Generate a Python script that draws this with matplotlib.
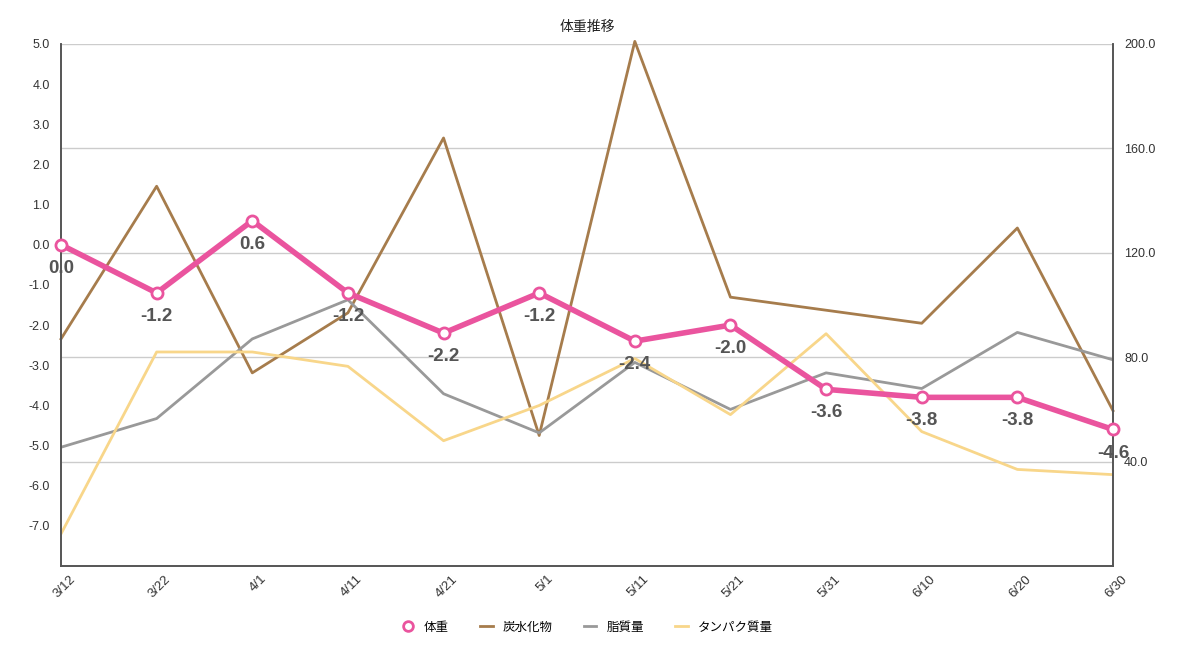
import matplotlib.pyplot as plt
from matplotlib.lines import Line2D
from matplotlib.transforms import ScaledTranslation

plt.rcParams['font.family'] = ['Liberation Sans', 'Noto Sans CJK JP']

dates = ['3/12', '3/22', '4/1', '4/11', '4/21', '5/1', '5/11', '5/21', '5/31', '6/10', '6/20', '6/30']
weight = [0.0, -1.2, 0.6, -1.2, -2.2, -1.2, -2.4, -2.0, -3.6, -3.8, -3.8, -4.6]
carbs = [87, 145.5, 74, 97, 164, 50, 201, 103, 98, 93, 129.5, 59.5]
fat = [45.5, 56.5, 87, 102, 66, 51, 78, 60, 74, 68, 89.5, 79]
protein = [12.3, 82, 82, 76.5, 48, 61.5, 79.5, 58, 89, 51.5, 37, 35]

pink = '#ea549e'
brown = '#a67c4c'
gray = '#999999'
yellow = '#f8d68a'

fig = plt.figure(figsize=(12, 6.47), dpi=100)
# nutrient axis (right scale) underneath, weight axis on top
ax = fig.add_axes([61/1200, 81/647, 1052/1200, 522/647])
ax2 = ax.twinx()

x = list(range(len(dates)))
ax.plot(x, carbs, color=brown, lw=2, clip_on=False)
ax.plot(x, fat, color=gray, lw=2)
ax.plot(x, protein, color=yellow, lw=2)
ax.set_ylim(0, 200)
ax.set_yticks([40, 80, 120, 160, 200])
ax.set_yticklabels(['%.1f' % v for v in [40, 80, 120, 160, 200]])
ax.yaxis.tick_right()
ax.grid(axis='y', color='#cccccc', lw=1)
ax.set_axisbelow(True)

ax2.plot(x, weight, color=pink, lw=4, marker='o', ms=8, mfc='white',
         mec=pink, mew=2, clip_on=False, zorder=5)
for xi, w in zip(x, weight):
    ax2.annotate('%.1f' % w, (xi, w), xytext=(0, -17), textcoords='offset points',
                 ha='center', va='center', fontsize=13.5, color='#555555',
                 fontweight='bold', zorder=6)
ax2.set_ylim(-8, 5)
ticks = [5, 4, 3, 2, 1, 0, -1, -2, -3, -4, -5, -6, -7]
ax2.set_yticks(ticks)
ax2.set_yticklabels(['%.1f' % t for t in ticks])
ax2.yaxis.tick_left()

for a in (ax, ax2):
    a.set_xlim(0, 11)
    a.spines['top'].set_visible(False)
    for s in ('left', 'right', 'bottom'):
        a.spines[s].set_color('#555555')
        a.spines[s].set_linewidth(1.2)
    a.tick_params(axis='y', length=0, labelsize=9, colors='#333333', pad=8)

ax.set_xticks(x)
ax.set_xticklabels(dates, rotation=45, ha='right', rotation_mode='anchor')
ax.tick_params(axis='x', length=0, labelsize=9.5, colors='#333333', pad=5)
shift = ScaledTranslation(8/100, 0, fig.dpi_scale_trans)
for lbl in ax.get_xticklabels():
    lbl.set_transform(lbl.get_transform() + shift)

fig.text(587/1200, 1 - 27/647, '体重推移', ha='center', va='center', fontsize=10,
         color='#222222', family=['Noto Sans CJK JP'])

handles = [
    Line2D([], [], color=pink, lw=0, marker='o', ms=7, mfc='white', mec=pink, mew=2),
    Line2D([], [], color=brown, lw=2),
    Line2D([], [], color=gray, lw=2),
    Line2D([], [], color=yellow, lw=2),
]
fig.legend(handles, ['体重', '炭水化物', '脂質量', 'タンパク質量'], loc='center',
           bbox_to_anchor=(587/1200, 1 - 627/647), ncol=4, frameon=False,
           prop={'family': 'Noto Sans CJK JP', 'size': 9},
           handlelength=1.0, columnspacing=2.5, handletextpad=0.8)

fig.savefig('out.png', dpi=100)
